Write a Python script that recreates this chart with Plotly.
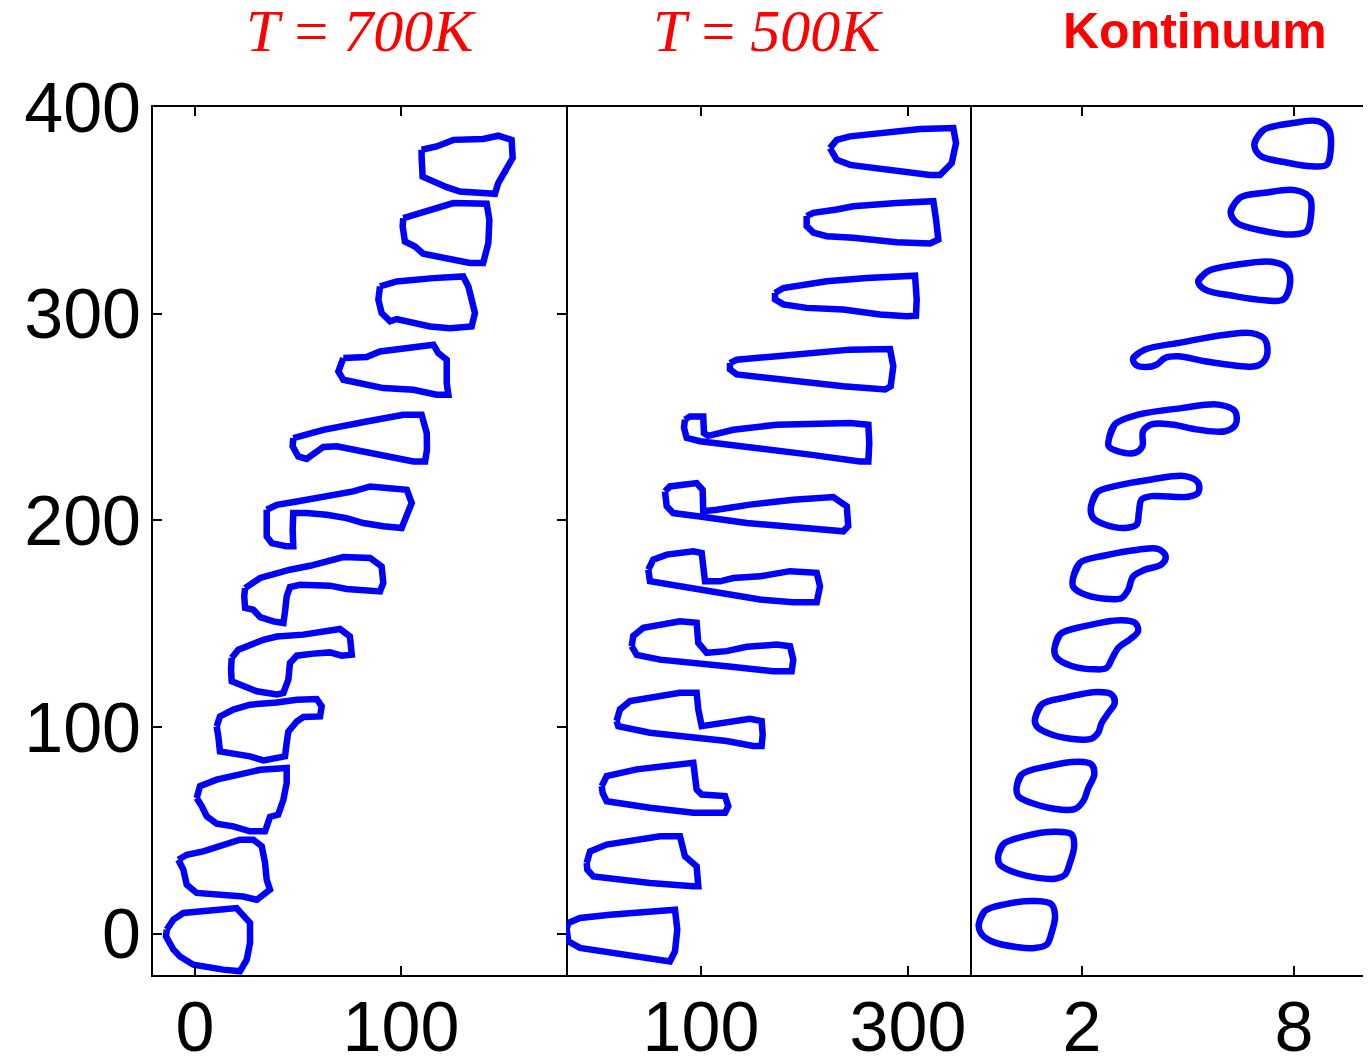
import plotly.graph_objects as go

# ---------------- data (axis units) ----------------
Y_TICKS = [0, 100, 200, 300, 400]
P1_TICKS = [0, 100]
P2_TICKS = [100, 300]
P3_TICKS = [2, 8]
TITLES = ["<i>T</i> = <i>700K</i>", "<i>T</i> = <i>500K</i>", "<b>Kontinuum</b>"]

P1_X = [
    [110.0, 117.3, 125.4, 139.9, 147.2, 153.7, 154.2, 151.3, 147.2, 145.6, 139.9, 128.6, 122.2, 115.7, 110.5, 110.0],
    [101.1, 110.8, 125.4, 141.6, 142.9, 142.4, 139.9, 133.5, 125.4, 117.3, 110.8, 106.8, 101.9, 100.8],
    [89.8, 97.9, 115.7, 130.2, 132.7, 134.3, 135.9, 134.3, 123.8, 114.1, 104.4, 97.9, 94.7, 90.6, 89.0],
    [72.0, 83.3, 89.8, 101.1, 115.7, 118.1, 122.2, 122.2, 123.0, 117.3, 106.0, 91.4, 81.7, 72.0, 69.6],
    [47.7, 62.3, 83.3, 101.1, 110.0, 112.5, 112.6, 111.7, 106.0, 97.9, 78.5, 68.8, 62.3, 58.3, 54.2, 50.1, 47.4],
    [34.8, 39.7, 49.4, 65.5, 76.8, 85.0, 102.8, 105.2, 102.8, 100.3, 91.4, 81.7, 73.6, 63.9, 54.2, 47.7, 47.4, 47.7, 44.5, 37.2, 34.8, 34.5],
    [24.3, 31.6, 46.1, 55.8, 72.0, 85.0, 90.6, 91.4, 89.8, 81.7, 73.6, 65.5, 51.0, 46.1, 44.5, 43.7, 42.9, 38.0, 31.6, 28.3, 24.3, 23.9],
    [17.8, 21.0, 33.2, 39.7, 52.6, 62.3, 70.4, 75.2, 76.1, 71.2, 65.5, 57.4, 49.4, 46.1, 45.3, 42.9, 39.7, 30.0, 21.8, 17.8, 17.5],
    [10.5, 12.1, 18.6, 26.7, 39.7, 49.4, 59.1, 61.5, 60.7, 52.6, 49.4, 45.3, 44.5, 43.7, 33.2, 26.7, 18.6, 12.1, 11.3],
    [0.8, 2.4, 10.5, 21.8, 31.6, 44.5, 44.5, 42.9, 40.4, 36.4, 34.0, 26.7, 18.6, 10.5, 5.7, 3.3],
    [-8.1, -4.0, 4.0, 15.4, 21.8, 28.3, 32.4, 34.0, 34.8, 36.4, 30.0, 23.4, 10.5, 0.8, -4.0, -5.7],
    [-13.7, -10.5, -5.7, 2.4, 12.1, 20.2, 26.7, 26.7, 25.1, 21.8, 13.7, -0.8, -7.3, -10.5, -14.1],
]
P1_Y = [
    [379.3, 380.9, 384.1, 384.5, 386.1, 384.1, 375.3, 369.6, 363.2, 358.0, 358.3, 359.1, 361.2, 364.0, 366.3, 376.0],
    [346.2, 349.4, 353.5, 353.2, 345.4, 334.2, 324.5, 324.5, 326.1, 327.7, 329.0, 332.5, 334.9, 342.2],
    [313.2, 315.6, 317.2, 318.0, 313.2, 306.7, 300.3, 293.8, 293.0, 293.8, 295.7, 297.4, 296.3, 300.3, 306.7],
    [278.5, 279.0, 281.7, 283.4, 285.0, 280.9, 277.7, 266.4, 260.8, 260.8, 263.2, 264.0, 266.4, 268.0, 272.0],
    [239.8, 243.8, 247.8, 251.1, 251.1, 242.2, 234.2, 228.5, 228.5, 230.1, 233.3, 235.8, 235.5, 232.6, 229.7, 230.9, 235.8],
    [205.1, 207.5, 209.1, 211.6, 214.0, 216.4, 214.8, 208.4, 201.9, 196.3, 197.1, 198.7, 201.1, 202.7, 203.5, 203.5, 195.5, 187.4, 187.4, 189.0, 192.2, 198.7],
    [167.2, 172.1, 176.1, 178.0, 182.2, 181.8, 177.7, 169.7, 165.6, 166.4, 166.8, 168.4, 168.8, 167.7, 163.2, 155.9, 150.3, 151.1, 153.2, 156.7, 157.6, 163.2],
    [133.4, 137.4, 142.2, 143.8, 144.7, 146.3, 147.4, 143.8, 135.0, 134.5, 136.1, 135.5, 134.5, 131.0, 122.9, 116.5, 115.7, 117.3, 120.5, 122.1, 127.7],
    [100.3, 105.1, 108.4, 110.8, 111.9, 113.2, 113.5, 110.0, 105.1, 104.8, 102.7, 97.8, 92.3, 85.8, 83.8, 85.8, 87.1, 88.2, 95.5],
    [65.6, 71.4, 74.5, 76.9, 79.3, 80.2, 72.9, 64.8, 57.6, 56.5, 49.5, 49.5, 51.9, 53.2, 56.8, 61.6],
    [35.8, 38.2, 39.8, 43.1, 45.5, 45.5, 42.3, 34.2, 26.1, 21.3, 16.4, 18.0, 18.9, 19.7, 23.7, 31.0],
    [2.0, 6.8, 10.0, 10.8, 11.6, 12.4, 5.2, -4.5, -12.6, -18.2, -17.4, -15.0, -11.0, -7.7, -1.3],
]

P2_X = [
    [224.6, 231.1, 244.0, 273.0, 311.6, 343.8, 346.4, 342.2, 330.9, 321.3, 292.3, 269.8, 244.0, 231.1],
    [202.1, 208.5, 231.1, 247.2, 289.1, 324.5, 327.1, 329.3, 321.3, 289.1, 247.2, 221.5, 208.5, 202.1],
    [171.5, 179.5, 221.5, 260.1, 306.8, 308.4, 307.7, 298.7, 273.0, 237.5, 202.1, 179.5, 171.5],
    [128.0, 134.5, 173.1, 215.0, 244.0, 282.6, 285.8, 283.3, 277.8, 237.5, 182.8, 134.5, 128.0],
    [84.5, 89.4, 102.2, 102.9, 107.1, 131.2, 173.1, 221.5, 244.0, 261.7, 262.6, 261.7, 253.6, 205.3, 166.7, 131.2, 99.0, 86.2, 83.6],
    [65.2, 70.0, 82.9, 95.8, 101.6, 102.2, 115.2, 147.3, 189.2, 227.8, 240.8, 242.3, 237.5, 195.7, 144.2, 99.0, 73.2, 66.9],
    [49.1, 53.9, 66.9, 92.6, 100.7, 102.2, 103.9, 118.4, 131.2, 157.0, 186.0, 211.8, 215.0, 211.8, 189.2, 157.0, 118.4, 70.0, 50.7],
    [33.0, 34.6, 44.3, 60.4, 79.7, 95.8, 97.4, 105.5, 124.8, 144.2, 173.1, 186.0, 189.2, 187.6, 169.9, 124.8, 86.2, 60.4, 37.9],
    [18.5, 21.7, 31.4, 60.4, 79.7, 95.8, 97.4, 100.7, 124.8, 147.3, 158.6, 159.6, 158.6, 150.5, 124.8, 86.2, 50.7, 20.1],
    [4.1, 8.9, 37.9, 60.4, 92.6, 95.8, 100.7, 123.2, 126.4, 123.2, 92.6, 50.7, 8.9, 5.0],
    [-10.4, -7.2, 8.9, 37.9, 60.4, 79.7, 84.5, 95.8, 97.4, 92.6, 50.7, -4.0, -9.8],
    [-28.2, -16.9, 12.1, 44.3, 74.9, 77.1, 74.9, 70.0, 47.5, 12.1, -16.9, -28.2, -29.8],
]
P2_Y = [
    [380.1, 384.1, 385.8, 387.4, 389.3, 389.8, 382.5, 372.8, 367.1, 367.1, 368.8, 370.4, 372.0, 374.5],
    [347.2, 348.8, 350.4, 352.0, 353.5, 354.4, 345.5, 335.9, 334.0, 334.6, 336.7, 337.5, 339.2, 342.4],
    [310.0, 312.4, 315.7, 317.3, 318.4, 306.8, 299.0, 298.8, 299.6, 302.0, 302.8, 304.5, 306.9],
    [276.1, 277.7, 279.4, 281.0, 282.6, 282.9, 274.6, 264.9, 263.3, 264.9, 268.1, 270.6, 273.0],
    [248.7, 250.3, 250.3, 242.2, 240.9, 243.8, 246.3, 247.1, 247.1, 246.3, 237.4, 228.5, 228.5, 231.8, 234.2, 235.8, 238.3, 239.9, 244.8],
    [214.0, 216.4, 217.2, 218.0, 214.8, 204.4, 205.1, 207.6, 210.0, 211.3, 206.8, 197.2, 194.7, 196.3, 198.7, 201.9, 203.5, 206.8],
    [176.1, 181.0, 183.4, 185.0, 184.2, 177.7, 170.5, 170.5, 172.1, 172.9, 175.4, 174.6, 168.1, 160.4, 160.4, 161.7, 164.9, 168.9, 170.5],
    [139.1, 144.0, 148.0, 149.6, 151.2, 150.4, 140.7, 135.9, 136.7, 138.8, 139.9, 139.1, 132.6, 127.0, 127.0, 129.4, 131.0, 132.6, 134.9],
    [102.9, 108.5, 112.5, 115.0, 116.6, 116.6, 108.5, 100.4, 102.1, 104.0, 102.9, 96.4, 90.8, 90.8, 93.2, 95.6, 97.2, 100.4],
    [71.4, 76.2, 79.5, 81.1, 82.7, 69.8, 67.3, 66.6, 61.7, 58.5, 58.5, 60.9, 64.1, 68.1],
    [34.2, 39.8, 43.1, 45.5, 47.1, 47.1, 37.5, 32.6, 23.0, 23.0, 24.5, 27.7, 31.0],
    [5.2, 7.6, 9.2, 10.8, 11.6, 2.0, -8.5, -13.4, -11.7, -9.3, -6.9, -3.7, 2.0],
]

P3_X = [
    [6.88, 7.13, 8.03, 8.69, 8.99, 9.04, 8.93, 8.50, 7.75, 7.04],
    [6.21, 6.47, 7.18, 8.03, 8.45, 8.48, 8.36, 7.93, 7.18, 6.38],
    [5.29, 5.57, 6.42, 7.37, 7.79, 7.89, 7.70, 7.18, 6.33, 5.48],
    [3.45, 3.78, 4.82, 6.05, 6.80, 7.18, 7.23, 6.99, 6.52, 5.48, 4.73, 4.35, 4.11, 3.83, 3.52],
    [2.76, 2.93, 3.59, 4.82, 5.86, 6.33, 6.35, 6.05, 5.29, 4.54, 3.97, 3.73, 3.71, 3.50, 3.03, 2.76],
    [2.25, 2.42, 2.93, 3.97, 4.92, 5.29, 5.29, 5.01, 3.97, 3.69, 3.61, 3.55, 3.22, 2.65, 2.32],
    [1.75, 1.94, 2.65, 3.59, 4.16, 4.37, 4.25, 3.78, 3.45, 3.31, 3.12, 2.65, 1.99, 1.75],
    [1.22, 1.38, 2.08, 3.12, 3.50, 3.59, 3.36, 3.03, 2.84, 2.70, 2.37, 1.71, 1.28],
    [0.67, 0.86, 1.52, 2.46, 2.84, 2.93, 2.75, 2.56, 2.46, 2.27, 1.90, 1.14, 0.72],
    [0.15, 0.29, 1.05, 1.90, 2.27, 2.35, 2.18, 2.04, 1.80, 1.43, 0.58, 0.20],
    [-0.37, -0.23, 0.39, 1.24, 1.71, 1.78, 1.66, 1.52, 1.24, 0.76, 0.01, -0.32],
    [-0.92, -0.75, -0.18, 0.67, 1.14, 1.24, 1.14, 1.00, 0.67, 0.20, -0.56, -0.86],
]
P3_Y = [
    [382.3, 388.8, 392.4, 393.1, 389.1, 379.4, 372.1, 371.3, 373.3, 376.5],
    [349.6, 356.1, 358.5, 359.8, 356.1, 347.2, 339.9, 338.3, 339.9, 344.0],
    [315.7, 320.6, 323.8, 325.1, 322.2, 314.9, 306.9, 306.5, 308.5, 311.7],
    [278.5, 282.6, 286.1, 289.8, 290.6, 287.5, 279.4, 274.9, 274.6, 277.0, 279.4, 278.6, 275.3, 274.2, 275.3],
    [239.1, 246.4, 251.1, 254.3, 256.0, 252.8, 246.4, 243.1, 243.9, 246.4, 246.4, 243.1, 235.8, 232.6, 233.4, 235.8],
    [206.0, 213.4, 216.5, 219.8, 221.4, 218.2, 213.4, 211.4, 211.7, 210.1, 203.5, 198.0, 196.3, 198.0, 201.1],
    [172.1, 179.4, 183.0, 185.8, 186.1, 182.6, 178.6, 176.1, 172.9, 166.4, 162.4, 162.1, 164.8, 168.0],
    [137.6, 144.8, 148.8, 151.7, 150.4, 146.4, 142.4, 138.3, 132.7, 128.6, 127.9, 129.5, 133.6],
    [103.7, 110.9, 114.2, 116.9, 115.7, 111.7, 106.9, 102.0, 97.2, 94.3, 94.0, 96.4, 100.4],
    [70.5, 77.0, 81.1, 83.2, 81.9, 77.0, 70.5, 64.2, 60.3, 60.0, 63.2, 66.5],
    [37.5, 43.2, 47.2, 49.3, 48.0, 42.3, 34.2, 28.5, 26.6, 27.0, 30.2, 33.4],
    [4.5, 10.9, 14.2, 15.8, 14.2, 8.5, 0.3, -5.3, -6.9, -6.6, -3.7, 0.3],
]


def joined(loops_x, loops_y, wrap=1):
    xs, ys = [], []
    for lx, ly in zip(loops_x, loops_y):
        xs += list(lx) + list(lx[:wrap]) + [None]
        ys += list(ly) + list(ly[:wrap]) + [None]
    return xs, ys


BLUE = "#0000FF"
LW = 6.5
fig = go.Figure()
x1, y1 = joined(P1_X, P1_Y)
x2, y2 = joined(P2_X, P2_Y)
x3, y3 = joined(P3_X, P3_Y, wrap=2)
fig.add_trace(go.Scatter(x=x1, y=y1, mode="lines", xaxis="x", yaxis="y",
                         line=dict(color=BLUE, width=LW), showlegend=False, hoverinfo="skip"))
fig.add_trace(go.Scatter(x=x2, y=y2, mode="lines", xaxis="x2", yaxis="y2",
                         line=dict(color=BLUE, width=LW), showlegend=False, hoverinfo="skip"))
fig.add_trace(go.Scatter(x=x3, y=y3, mode="lines", xaxis="x3", yaxis="y3",
                         line=dict(color=BLUE, width=LW, shape="spline", smoothing=1.0),
                         showlegend=False, hoverinfo="skip"))

# page body has an 8px margin, so the figure is drawn 8px smaller and offset
OFF = 8
W, H = 1371 - OFF, 1063 - OFF
L, R, T = 153 - OFF, 0, 107 - OFF
B = H - (975 - OFF)
PW = W - L - R
PH = H - T - B


def dom(p0, p1):
    return [max(0.0, (p0 - OFF - L) / PW), min(1.0, (p1 - OFF - L) / PW)]


d1 = dom(153, 566)
d2 = dom(566, 970)
d3 = dom(972, 1371)

TICKFONT = dict(family="Liberation Sans, Arial, sans-serif", size=70, color="black")
common_x = dict(showline=True, linecolor="black", linewidth=2, ticks="inside", ticklen=9,
                tickwidth=1.5, tickcolor="black", showgrid=False, zeroline=False,
                tickfont=TICKFONT, mirror="ticks", automargin=False, ticklabelstandoff=-10)
common_y = dict(showline=True, linecolor="black", linewidth=2, showgrid=False, zeroline=False,
                range=[-20, 400], tickfont=TICKFONT, automargin=False)

fig.update_layout(
    width=W, height=H,
    margin=dict(l=L, r=R, t=T, b=B, pad=0, autoexpand=False),
    paper_bgcolor="white", plot_bgcolor="white",
    xaxis=dict(**common_x, anchor="y", domain=d1, range=[-20.4, 180.1],
               tickvals=P1_TICKS, ticktext=[str(v) for v in P1_TICKS]),
    xaxis2=dict(**common_x, anchor="y2", domain=d2, range=[-30.4, 359.9],
                tickvals=P2_TICKS, ticktext=[str(v) for v in P2_TICKS]),
    xaxis3=dict(**common_x, anchor="y3", domain=d3, range=[-1.11, 10.18],
                tickvals=P3_TICKS, ticktext=[str(v) for v in P3_TICKS]),
    yaxis=dict(**common_y, anchor="x", ticks="inside", ticklen=9, tickwidth=1.5,
               tickcolor="black", mirror="ticks", tickvals=Y_TICKS,
               ticktext=[str(v) for v in Y_TICKS], ticklabelstandoff=-4),
    yaxis2=dict(**common_y, anchor="x2", side="right", ticks="", mirror=False,
                showticklabels=False),
    yaxis3=dict(**common_y, anchor="x3", ticks="", mirror=False, showticklabels=False),
)

title_x = [361, 768, 1195]
title_fonts = [
    dict(family="Liberation Serif, Times New Roman, serif", size=60, color="#FF0000"),
    dict(family="Liberation Serif, Times New Roman, serif", size=60, color="#FF0000"),
    dict(family="Liberation Sans, Arial, sans-serif", size=50, color="#FF0000"),
]
for txt, px, f in zip(TITLES, title_x, title_fonts):
    fig.add_annotation(text=txt, xref="paper", yref="paper",
                       x=(px - OFF - L) / PW, y=1 + (T - (31 - OFF)) / PH,
                       xanchor="center", yanchor="middle", showarrow=False, font=f)

fig.write_html("out.html")
